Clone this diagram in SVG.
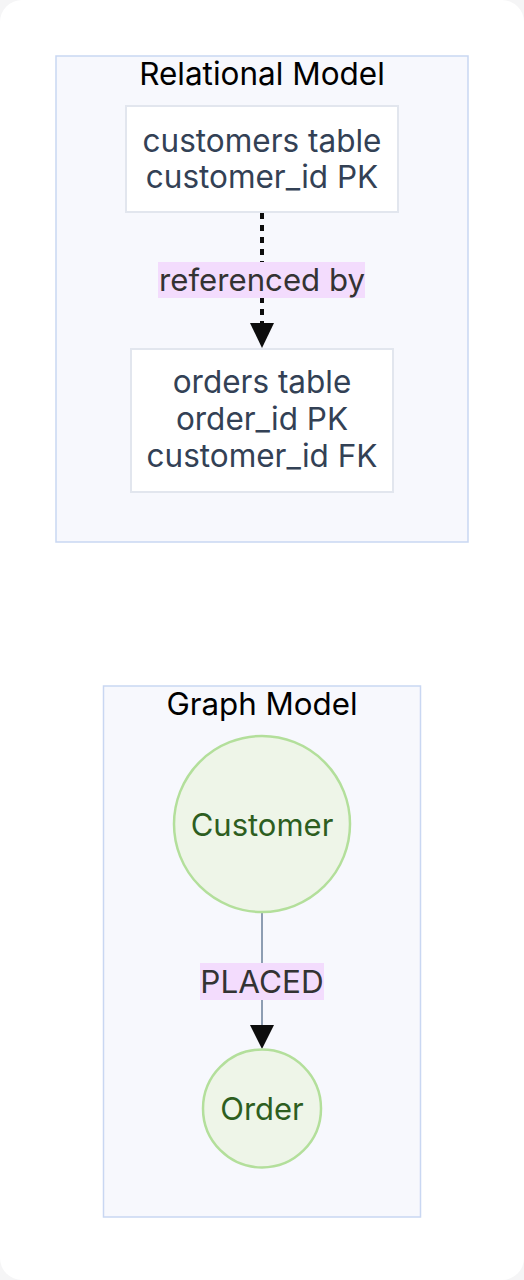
<svg xmlns="http://www.w3.org/2000/svg" width="524" height="1280" viewBox="0 0 524 1280">
<defs>
<style>
.cluster{fill:#f7f8fd;stroke:#c9d7f2;stroke-width:1.5}
.ctitle{font-family:Inter,"Liberation Sans",sans-serif;fill:#000;text-anchor:middle}
.box{fill:#fff;stroke:#e2e6ee;stroke-width:2}
.btext{font-family:Inter,"Liberation Sans",sans-serif;font-size:31.5px;fill:#334155;text-anchor:middle}
.lbg{fill:#f3dcfd}
.ltext{font-family:Inter,"Liberation Sans",sans-serif;fill:#333;text-anchor:middle}
.circ{fill:#eef5e8;stroke:#b3df9b;stroke-width:2.5}
.ctext{font-family:Inter,"Liberation Sans",sans-serif;font-size:31px;fill:#2d5e1f;text-anchor:middle}
</style>
</defs>
<rect x="0" y="0" width="524" height="1280" fill="#f5f5f6"/>
<rect x="0" y="0" width="524" height="1280" rx="22" fill="#fff"/>
<g id="relational">
<rect class="cluster" x="56" y="56" width="412" height="486"/>
<text class="ctitle" x="262" y="85" font-size="31.5">Relational Model</text>
</g>
<g id="graph">
<rect class="cluster" x="103.5" y="686" width="317" height="531"/>
<text class="ctitle" x="262" y="715" font-size="31.3">Graph Model</text>
</g>
<g id="connectors">
<line x1="262" y1="213" x2="262" y2="323" stroke="#0d0d0d" stroke-width="4" stroke-dasharray="6 6"/>
<path d="M250,323 L274,323 L262,348 Z" fill="#0d0d0d"/>
<line x1="262" y1="913" x2="262" y2="1025" stroke="#8d9db2" stroke-width="2"/>
<path d="M250,1025 L274,1025 L262,1049 Z" fill="#0d0d0d"/>
<g id="label-referenced">
<rect class="lbg" x="158" y="262" width="207" height="36"/>
<text class="ltext" x="262" y="291" font-size="31.2">referenced by</text>
</g>
<g id="label-placed">
<rect class="lbg" x="200" y="963" width="124" height="37"/>
<text class="ltext" x="262" y="993" font-size="31.5">PLACED</text>
</g>
</g>
<g id="customers">
<rect class="box" x="126" y="106" width="272" height="106"/>
<text class="btext" x="262" y="152">customers table</text>
<text class="btext" x="262" y="188">customer_id PK</text>
</g>
<g id="orders">
<rect class="box" x="131" y="349" width="262" height="143"/>
<text class="btext" x="262" y="393">orders table</text>
<text class="btext" x="262" y="430">order_id PK</text>
<text class="btext" x="262" y="467">customer_id FK</text>
</g>
<g id="Customer">
<circle class="circ" cx="262" cy="824" r="88"/>
<text class="ctext" x="262" y="836">Customer</text>
</g>
<g id="Order">
<circle class="circ" cx="262" cy="1108.5" r="59"/>
<text class="ctext" x="262" y="1120">Order</text>
</g>
</svg>
